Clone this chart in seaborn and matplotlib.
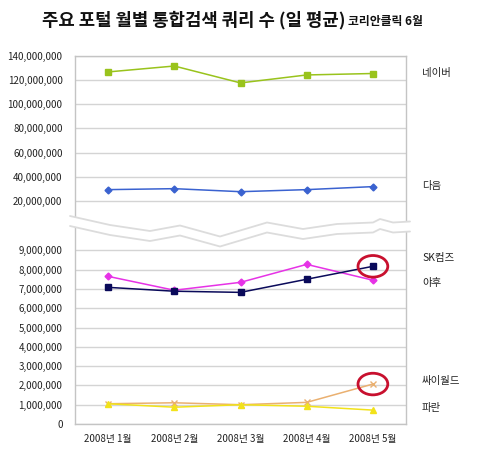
import numpy as np
import pandas as pd
import matplotlib
matplotlib.use("Agg")
import matplotlib.pyplot as plt
from matplotlib.lines import Line2D
from matplotlib.patches import Polygon, Ellipse
from matplotlib.ticker import FuncFormatter
import seaborn as sns

sns.set_style("white")
plt.rcParams["font.family"] = ["Noto Sans CJK KR", "DejaVu Sans"]

months = ["2008년 1월", "2008년 2월", "2008년 3월", "2008년 4월", "2008년 5월"]

# top panel (large portals)
naver = [126.8e6, 131.7e6, 117.7e6, 124.3e6, 125.5e6]
daum = [29.3e6, 30.1e6, 27.6e6, 29.3e6, 31.8e6]

# bottom panel
sk = [7.08e6, 6.88e6, 6.82e6, 7.50e6, 8.17e6]
yahoo = [7.65e6, 6.93e6, 7.34e6, 8.27e6, 7.45e6]
cyworld = [1.05e6, 1.10e6, 1.00e6, 1.12e6, 2.07e6]
paran = [1.05e6, 0.87e6, 1.00e6, 0.92e6, 0.72e6]

top_ticks = [20e6, 40e6, 60e6, 80e6, 100e6, 120e6, 140e6]
bottom_ticks = [0, 1e6, 2e6, 3e6, 4e6, 5e6, 6e6, 7e6, 8e6, 9e6]

W, H = 480, 450
fig = plt.figure(figsize=(4.8, 4.5), dpi=100)


def fx(px):
    return px / W


def fy(py):
    return 1 - py / H


grid_c = "#d4d4d4"
spine_c = "#c4c4c4"

ax_top = fig.add_axes([fx(75), fy(225), fx(406 - 75), (225 - 56) / H])
ax_bot = fig.add_axes([fx(75), fy(424), fx(406 - 75), (424 - 225) / H])

x = np.arange(len(months))

series_top = [
    (naver, "#99c31c", "s", 4.5),
    (daum, "#3a62d0", "D", 3.5),
]
series_bot = [
    (yahoo, "#e632e6", "D", 3.5),
    (sk, "#0a0a5a", "s", 4.5),
    (cyworld, "#eab070", "x", 4.5),
    (paran, "#f2e21a", "^", 4.5),
]

for ax, series in [(ax_top, series_top), (ax_bot, series_bot)]:
    for vals, col, mk, ms in series:
        df = pd.DataFrame({"m": x, "v": vals})
        sns.lineplot(data=df, x="m", y="v", ax=ax, color=col, marker=mk,
                     markersize=ms, markeredgecolor=col, markeredgewidth=1,
                     linewidth=1.1)
    ax.set_xlim(-0.5, len(months) - 0.5)
    ax.set_xlabel("")
    ax.set_ylabel("")
    ax.yaxis.grid(True, color=grid_c, linewidth=1)
    ax.set_axisbelow(True)
    for s in ax.spines.values():
        s.set_color(spine_c)
        s.set_linewidth(1)
    ax.yaxis.set_major_formatter(FuncFormatter(lambda v, p: f"{int(round(v)):,}"))
    ax.tick_params(axis="y", length=0, labelsize=7, pad=9, colors="#222222")

ax_top.set_ylim(0, 140e6)
ax_top.set_yticks(top_ticks)
ax_top.spines["bottom"].set_visible(False)
ax_top.set_xticks([])

ax_bot.set_ylim(0, 199 / 19.3 * 1e6)
ax_bot.set_yticks(bottom_ticks)
ax_bot.spines["top"].set_visible(False)
ax_bot.set_xticks(x)
ax_bot.set_xticklabels(months)
ax_bot.set_xticks(x[:-1] + 0.5, minor=True)
ax_bot.tick_params(axis="x", which="major", length=0, labelsize=7, pad=7,
                   colors="#222222")
ax_bot.tick_params(axis="x", which="minor", length=3, direction="in",
                   color=spine_c)

# red circles around the May values
for val in [sk[4], cyworld[4]]:
    ax_bot.add_patch(Ellipse((4, val), 0.45, 1.12e6, fill=False,
                             edgecolor="#c8102e", linewidth=2, zorder=6,
                             clip_on=False))

# wavy break band
wave_x = [70, 110, 150, 180, 220, 267, 303, 337, 373, 380, 393, 410]
wave_y = [216, 225, 231, 225.5, 236.5, 222.5, 229, 224, 222.5, 219, 222.5, 221.5]
gap = 10
up = [(fx(a), fy(b)) for a, b in zip(wave_x, wave_y)]
lo = [(fx(a), fy(b + gap)) for a, b in zip(wave_x, wave_y)]
fig.add_artist(Polygon(up + lo[::-1], closed=True, facecolor="white",
                       edgecolor="none", transform=fig.transFigure, zorder=5))
for pts in (up, lo):
    fig.add_artist(Line2D([p[0] for p in pts], [p[1] for p in pts],
                          color="#dcdcdc", linewidth=1.3,
                          transform=fig.transFigure, zorder=6))

# series labels on the right
labels = [("네이버", 73), ("다음", 186), ("SK컴즈", 258), ("야후", 283),
          ("싸이월드", 381), ("파란", 408)]
for txt, py in labels:
    fig.text(fx(422), fy(py), txt, fontsize=7.5, va="center", ha="left",
             color="#222222")

fig.text(fx(42), fy(20), "주요 포털 월별 통합검색 쿼리 수 (일 평균)",
         fontsize=12.8, fontweight="bold", va="center", ha="left",
         color="#111111")
fig.text(fx(348), fy(21), "코리안클릭 6월", fontsize=8.5, fontweight="bold",
         va="center", ha="left", color="#111111")

fig.savefig("out.png", dpi=100, facecolor="white")
